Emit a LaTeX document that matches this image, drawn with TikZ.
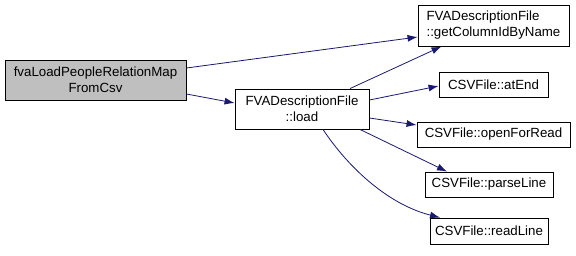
\documentclass[tikz,border=0pt]{standalone}
\usepackage{fontspec}
\setmainfont{Liberation Sans}
\usetikzlibrary{arrows.meta}
\definecolor{edgeblue}{RGB}{25,25,112}
\definecolor{callerfill}{RGB}{191,191,191}
\begin{document}
\begin{tikzpicture}[x=1pt,y=-1pt,
  fnbox/.style={draw=black,line width=0.9pt,fill=white,inner sep=0pt,
    font=\fontsize{13.3}{16}\selectfont,align=center},
  calledge/.style={draw=edgeblue,line width=0.8pt,
    -{Latex[length=10pt,width=7pt]}}]
\useasboundingbox (0,0) rectangle (576,255);
\node[fnbox,fill=callerfill,minimum width=181pt,minimum height=40pt] (A) at (95.5,80)
  {fvaLoadPeopleRelationMap\\FromCsv};
\node[fnbox,minimum width=134pt,minimum height=40pt] (B) at (302,109)
  {FVADescriptionFile\\::load};
\node[fnbox,minimum width=151pt,minimum height=41pt,align=left] (C) at (493.5,25.5)
  {FVADescriptionFile\\::getColumnIdByName};
\node[fnbox,minimum width=109pt,minimum height=25pt] (D) at (493.5,84.5) {CSVFile::atEnd};
\node[fnbox,minimum width=153pt,minimum height=25pt] (E) at (493.5,134.5) {CSVFile::openForRead};
\node[fnbox,minimum width=128pt,minimum height=25pt] (F) at (489,184.5) {CSVFile::parseLine};
\node[fnbox,minimum width=118pt,minimum height=26pt] (G) at (489,231) {CSVFile::readLine};

\draw[calledge] ([yshift=12pt]A.east) -- ([yshift=-11.5pt]C.west);
\draw[calledge] ([yshift=-14pt]A.east) -- ([yshift=6pt]B.west);
\draw[calledge] ([xshift=48pt]B.north) -- ([xshift=-52pt]C.south);
\draw[calledge] ([yshift=9pt]B.east) -- ([yshift=-1.5pt]D.west);
\draw[calledge] ([yshift=-9pt]B.east) -- ([yshift=9.5pt]E.west);
\draw[calledge] ([xshift=58pt]B.south) -- ([xshift=-42pt]F.north);
\draw[calledge] ([xshift=21pt]B.south) .. controls (350,170) and (390,205) .. ([xshift=-49pt]G.north);
\end{tikzpicture}
\end{document}
